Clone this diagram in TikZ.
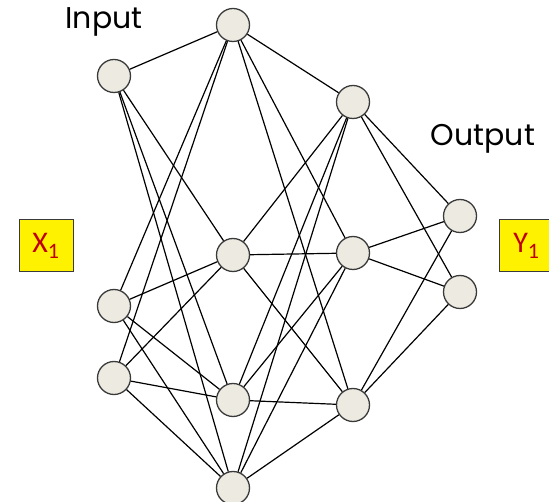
\documentclass[tikz,border=0pt]{standalone}
\usepackage{fontspec}
\newfontfamily\labelfont{Poppins}
\newfontfamily\boxfont{Carlito}
\definecolor{nodefill}{HTML}{ECEAE1}
\definecolor{nodeline}{HTML}{3A3A3A}
\definecolor{boxred}{HTML}{C00000}
\begin{document}
\begin{tikzpicture}[x=1pt,y=-1pt,
  neuron/.style={circle,draw=nodeline,fill=nodefill,line width=1.3pt,minimum size=33pt,inner sep=0pt},
  link/.style={draw=black,line width=1.2pt},
  varbox/.style={draw=nodeline,fill=yellow,line width=1pt,minimum width=54pt,minimum height=52pt,inner sep=0pt,text=boxred,font=\boxfont\fontsize{30}{33}\selectfont},
  title/.style={font=\labelfont\fontsize{30}{33}\selectfont,inner sep=0pt}]
\useasboundingbox (0,0) rectangle (549,502);
% nodes
\node[neuron] (i1) at (114,76) {};
\node[neuron] (i2) at (114,306) {};
\node[neuron] (i3) at (114,378) {};
\node[neuron] (h1) at (233,25) {};
\node[neuron] (h2) at (233,255) {};
\node[neuron] (h3) at (233,400) {};
\node[neuron] (h4) at (233,488) {};
\node[neuron] (g1) at (353,102) {};
\node[neuron] (g2) at (353,253) {};
\node[neuron] (g3) at (353,405) {};
\node[neuron] (o1) at (460,216) {};
\node[neuron] (o2) at (460,292) {};
% links
\foreach \a in {i1,i2,i3}{\foreach \b in {h1,h2,h3,h4}{\draw[link] (\a) -- (\b);}}
\foreach \a in {h1,h2,h3,h4}{\foreach \b in {g1,g2,g3}{\draw[link] (\a) -- (\b);}}
\foreach \a in {g1,g2,g3}{\foreach \b in {o1,o2}{\draw[link] (\a) -- (\b);}}
% labels
\node[title] (inlab) at (104,22) {Input};
\node[title] (outlab) at (483,139) {Output};
\node[varbox] (x1) at (46,246) {X$_{\mbox{\boxfont\fontsize{22}{24}\selectfont 1}}$};
\node[varbox,anchor=west] (y1) at (499,246) {Y$_{\mbox{\boxfont\fontsize{22}{24}\selectfont 1}}$};
\end{tikzpicture}
\end{document}
